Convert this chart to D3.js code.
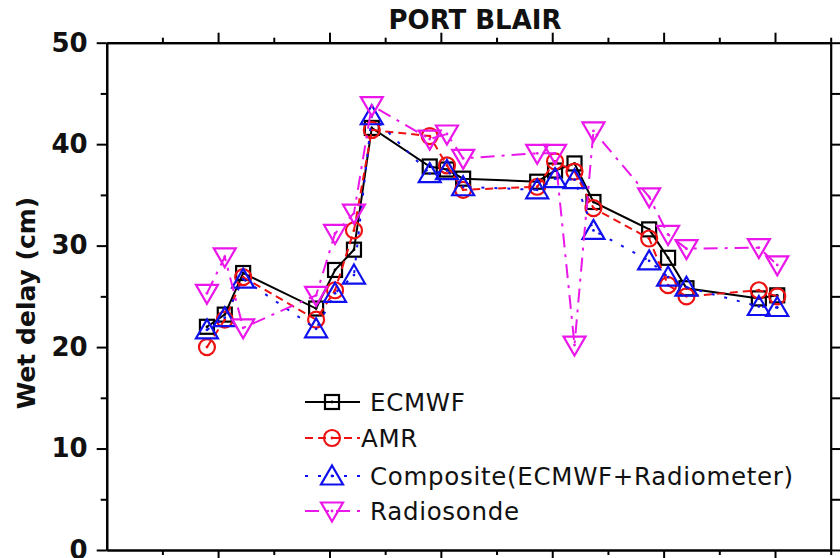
<!DOCTYPE html>
<html>
<head>
<meta charset="utf-8">
<script src="https://cdn.jsdelivr.net/npm/d3@7/dist/d3.min.js"></script>
<style>
  html, body { margin: 0; padding: 0; background: #fff; }
  svg { display: block; }
  text { font-family: "DejaVu Sans", Verdana, sans-serif; fill: #111; }
</style>
</head>
<body>
<svg id="chart" width="840" height="558"></svg>
<script>
// Observation times (axis units, one unit per minor tick)
const times = [1.80, 2.12, 2.45, 3.76, 4.10, 4.44, 4.76, 5.80, 6.11, 6.40,
               7.73, 8.05, 8.40, 8.74, 9.74, 10.08, 10.41, 11.71, 12.04];

// Wet delay (cm) for each source
const ecmwf      = [22.0, 23.2, 27.3, 23.8, 27.6, 29.6, 41.6, 37.8, 37.5, 36.6,
                    36.3, 37.4, 38.1, 34.3, 31.6, 28.8, 25.8, 24.8, 25.1];
const amr        = [20.0, 22.7, 26.9, 22.7, 25.6, 31.5, 41.4, 40.8, 37.9, 35.5,
                    35.8, 38.3, 37.3, 33.7, 30.7, 26.1, 25.0, 25.6, 25.0];
const composite  = [21.7, 22.9, 26.7, 21.8, 25.3, 27.1, 42.8, 37.1, 37.4, 35.8,
                    35.5, 36.6, 36.5, 31.5, 28.5, 26.9, 25.9, 24.0, 23.9];
const radiosonde = [25.3, 28.9, 21.9, 25.1, 31.2, 33.2, 43.8, 40.5, 41.0, 38.6,
                    39.1, 39.1, 20.2, 41.3, 34.8, 31.1, 29.7, 29.8, 28.1];

const seriesNames = ["ECMWF", "AMR", "Composite(ECMWF+Radiometer)", "Radiosonde"];

const yMajorTicks = [0, 10, 20, 30, 40, 50];
const yMinorTicks = [5, 15, 25, 35, 45];
const xMajorTicks = [2, 4, 6, 8, 10, 12];
const xMinorTicks = [1, 3, 5, 7, 9, 11, 13];

const chartTitle = "PORT BLAIR";
const yTitle = "Wet delay (cm)";

// ---- drawing ----
const svg = d3.select("#chart");
const plotLeft = 106.7, plotRight = 830.7, plotTop = 42.7, plotBottom = 550;

const x = d3.scaleLinear().domain([0, 13]).range([plotLeft, plotRight]);
const y = d3.scaleLinear().domain([0, 50]).range([plotBottom, plotTop]);

const styles = [
  { color: "#000000", dash: null,         symbol: "square" },
  { color: "#ee1111", dash: "8,5",        symbol: "circle" },
  { color: "#1010ee", dash: "3,10",       symbol: "up" },
  { color: "#ea16ea", dash: "14,7,3,7",   symbol: "down" }
];
const values = [ecmwf, amr, composite, radiosonde];

// axes
function styleAxis(g) {
  g.selectAll("path.domain").attr("stroke", "#000").attr("stroke-width", 2.2);
  g.selectAll(".tick line").attr("stroke", "#000").attr("stroke-width", 2);
}

svg.append("g").attr("transform", `translate(${plotLeft},0)`)
  .call(d3.axisLeft(y).tickValues(yMinorTicks).tickSize(6).tickSizeOuter(0).tickFormat(""))
  .call(styleAxis);
const yAxisG = svg.append("g").attr("transform", `translate(${plotLeft},0)`)
  .call(d3.axisLeft(y).tickValues(yMajorTicks).tickSize(10).tickSizeOuter(0).tickPadding(9))
  .call(styleAxis);
yAxisG.selectAll(".tick text")
  .attr("font-size", 26).attr("font-weight", "bold")
  .attr("font-family", "DejaVu Sans").attr("fill", "#111");

svg.append("g").attr("transform", `translate(${plotRight},0)`)
  .call(d3.axisRight(y).tickValues(yMajorTicks.concat(yMinorTicks)).tickSize(10).tickSizeOuter(0).tickFormat(""))
  .call(styleAxis);

svg.append("g").attr("transform", `translate(0,${plotTop})`)
  .call(d3.axisTop(x).tickValues(xMajorTicks).tickSize(10).tickSizeOuter(0).tickFormat(""))
  .call(styleAxis);
svg.append("g").attr("transform", `translate(0,${plotTop})`)
  .call(d3.axisTop(x).tickValues(xMinorTicks).tickSize(5).tickSizeOuter(0).tickFormat(""))
  .call(styleAxis);

svg.append("g").attr("transform", `translate(0,${plotBottom})`)
  .call(d3.axisBottom(x).tickValues(xMajorTicks).tickSize(10).tickSizeOuter(0).tickFormat(""))
  .call(styleAxis);
svg.append("g").attr("transform", `translate(0,${plotBottom})`)
  .call(d3.axisBottom(x).tickValues(xMinorTicks).tickSize(5).tickSizeOuter(0).tickFormat(""))
  .call(styleAxis);

// titles
svg.append("text")
  .attr("x", 475).attr("y", 29)
  .attr("text-anchor", "middle")
  .attr("font-size", 26).attr("font-weight", "bold")
  .text(chartTitle);

svg.append("text")
  .attr("transform", "translate(35,303) rotate(-90)")
  .attr("text-anchor", "middle")
  .attr("font-size", 25).attr("font-weight", "bold")
  .text(yTitle);

// marker shapes
function drawMarker(g, symbol, color, cx, cy) {
  const m = g.append("g").attr("transform", `translate(${cx},${cy})`);
  const sw = 2.2;
  if (symbol === "square") {
    m.append("rect").attr("x", -7).attr("y", -7).attr("width", 14).attr("height", 14)
      .attr("fill", "none").attr("stroke", color).attr("stroke-width", sw);
  } else if (symbol === "circle") {
    m.append("circle").attr("r", 8)
      .attr("fill", "none").attr("stroke", color).attr("stroke-width", sw);
  } else if (symbol === "up") {
    m.append("path").attr("d", "M0,-10.5 L11,8.5 L-11,8.5 Z")
      .attr("fill", "none").attr("stroke", color).attr("stroke-width", sw);
  } else {
    m.append("path").attr("d", "M0,10.5 L11,-8.5 L-11,-8.5 Z")
      .attr("fill", "none").attr("stroke", color).attr("stroke-width", sw);
  }
  m.append("circle").attr("r", 1.4).attr("fill", color);
}

const line = d3.line().x(d => x(d[0])).y(d => y(d[1]));

values.forEach((vals, i) => {
  const st = styles[i];
  const pts = times.map((t, k) => [t, vals[k]]);
  const g = svg.append("g");
  g.append("path").datum(pts)
    .attr("d", line)
    .attr("fill", "none")
    .attr("stroke", st.color)
    .attr("stroke-width", 2)
    .attr("stroke-dasharray", st.dash);
  pts.forEach(p => drawMarker(g, st.symbol, st.color, x(p[0]), y(p[1])));
});

// legend
const legendRows = [402, 438, 476, 511];
seriesNames.forEach((name, i) => {
  const st = styles[i];
  const ly = legendRows[i];
  const g = svg.append("g");
  g.append("line").attr("x1", 305).attr("x2", 360).attr("y1", ly).attr("y2", ly)
    .attr("stroke", st.color).attr("stroke-width", 2)
    .attr("stroke-dasharray", st.dash);
  drawMarker(g, st.symbol, st.color, 332, ly);
  g.append("text")
    .attr("x", name === "AMR" ? 361 : 370).attr("y", ly)
    .attr("dy", "0.36em")
    .attr("font-size", 24.5)
    .attr("letter-spacing", 0.7)
    .text(name);
});
</script>
</body>
</html>
